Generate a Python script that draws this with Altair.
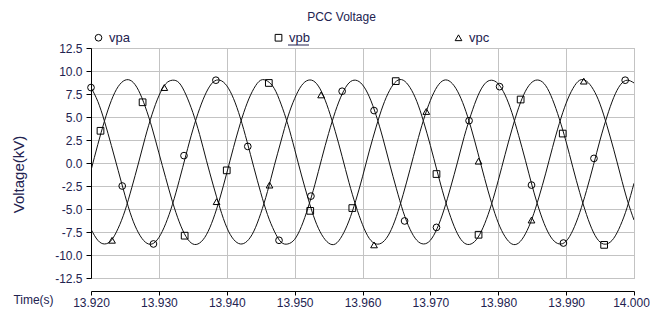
import altair as alt
import pandas as pd

FONT = "Liberation Sans"
TXT = "#222250"

TITLE = "PCC Voltage"
SERIES = ["vpa", "vpb", "vpc"]
SHAPES = ["circle", "square", "triangle-up"]

# sample times (s), one every millisecond
TIME = [round(13.920 + 0.001 * i, 3) for i in range(81)]

# values (kV)
VPA = [8.2, 6.7, 4.5, 1.9, -0.8, -3.5, -5.9, -7.6, -8.6, -8.8,
       -8.1, -6.6, -4.5, -1.9, 0.9, 3.6, 5.9, 7.7, 8.8, 9.0,
       8.4, 7.0, 4.9, 2.3, -0.5, -3.2, -5.6, -7.4, -8.6, -8.8,
       -8.3, -6.9, -4.8, -2.3, 0.5, 3.2, 5.6, 7.5, 8.7, 9.0,
       8.5, 7.2, 5.2, 2.7, -0.1, -2.8, -5.3, -7.2, -8.4, -8.8,
       -8.4, -7.1, -5.1, -2.6, 0.1, 2.9, 5.3, 7.3, 8.6, 9.0,
       8.6, 7.4, 5.5, 3.0, 0.3, -2.5, -5.0, -7.0, -8.3, -8.8,
       -8.5, -7.3, -5.4, -3.0, -0.3, 2.5, 5.0, 7.1, 8.5, 9.0,
       8.7]
VPB = [-0.8, 2.0, 4.6, 6.8, 8.3, 9.0, 8.9, 7.9, 6.1, 3.8,
       1.1, -1.6, -4.2, -6.4, -8.0, -8.8, -8.7, -7.8, -6.1, -3.8,
       -1.1, 1.7, 4.3, 6.5, 8.1, 9.0, 8.9, 8.1, 6.4, 4.2,
       1.5, -1.3, -3.9, -6.2, -7.8, -8.7, -8.8, -7.9, -6.3, -4.1,
       -1.5, 1.3, 3.9, 6.2, 7.9, 8.9, 9.0, 8.2, 6.7, 4.5,
       1.9, -0.9, -3.6, -5.9, -7.7, -8.7, -8.8, -8.1, -6.6, -4.5,
       -1.9, 0.9, 3.6, 6.0, 7.8, 8.8, 9.0, 8.4, 6.9, 4.8,
       2.3, -0.5, -3.2, -5.6, -7.5, -8.6, -8.8, -8.2, -6.8, -4.8,
       -2.2]
VPC = [-7.2, -8.4, -8.8, -8.4, -7.1, -5.2, -2.7, 0.0, 2.8, 5.3,
       7.3, 8.6, 9.0, 8.7, 7.4, 5.5, 3.1, 0.3, -2.4, -4.9,
       -7.0, -8.3, -8.8, -8.5, -7.4, -5.5, -3.1, -0.3, 2.4, 5.0,
       7.0, 8.4, 9.0, 8.8, 7.7, 5.8, 3.4, 0.7, -2.1, -4.6,
       -6.7, -8.2, -8.8, -8.6, -7.6, -5.8, -3.4, -0.7, 2.1, 4.7,
       6.8, 8.3, 9.0, 8.8, 7.8, 6.1, 3.8, 1.1, -1.7, -4.3,
       -6.5, -8.0, -8.8, -8.7, -7.7, -6.0, -3.7, -1.1, 1.7, 4.3,
       6.5, 8.1, 9.0, 8.9, 8.0, 6.4, 4.1, 1.5, -1.3, -4.0,
       -6.2]

# marker positions
MK_A_T = [13.9200, 13.9246, 13.9292, 13.9337, 13.9384, 13.9431, 13.9477, 13.9524, 13.9570,
          13.9617, 13.9662, 13.9709, 13.9757, 13.9802, 13.9849, 13.9896, 13.9941, 13.9987]
MK_A_V = [8.2, -2.5, -8.8, 0.8, 9.0, 1.8, -8.4, -3.6, 7.8, 5.7, -6.3, -7.0, 4.6, 8.3, -2.4, -8.7, 0.5, 9.0]
MK_B_T = [13.9214, 13.9276, 13.9338, 13.9400, 13.9462, 13.9523, 13.9585, 13.9649, 13.9709,
          13.9771, 13.9833, 13.9895, 13.9956]
MK_B_V = [3.5, 6.6, -7.9, -0.8, 8.7, -5.2, -4.9, 8.9, -1.2, -7.8, 6.9, 3.2, -8.9]
MK_C_T = [13.9231, 13.9308, 13.9385, 13.9463, 13.9539, 13.9617, 13.9694, 13.9771, 13.9849, 13.9926]
MK_C_V = [-8.4, 8.2, -4.2, -2.4, 7.4, -8.9, 5.6, 0.2, -6.2, 8.9]

X_TICKS = [13.92, 13.93, 13.94, 13.95, 13.96, 13.97, 13.98, 13.99, 14.0]
Y_TICKS = [-12.5, -10.0, -7.5, -5.0, -2.5, 0.0, 2.5, 5.0, 7.5, 10.0, 12.5]

lines_df = pd.concat([
    pd.DataFrame({"time": TIME, "value": vals, "series": name})
    for name, vals in zip(SERIES, [VPA, VPB, VPC])
])
marks_df = pd.concat([
    pd.DataFrame({"time": t, "value": v, "series": name})
    for name, t, v in zip(SERIES, [MK_A_T, MK_B_T, MK_C_T], [MK_A_V, MK_B_V, MK_C_V])
])

x_enc = alt.X(
    "time:Q",
    scale=alt.Scale(domain=[13.92, 14.0], nice=False, zero=False),
    axis=alt.Axis(
        values=X_TICKS, format=".3f", offset=13, tickSize=4, labelPadding=2,
        labelFlush=False, labelOverlap=False, grid=True,
        labelOffset={"expr": "datum.value > 13.995 ? -3 : 0"},
        title="Time(s)", titleFontSize=12, titleX=-58, titleY=8,
        titleAlign="center", titleBaseline="middle", titleAngle=0,
    ),
)
y_enc = alt.Y(
    "value:Q",
    scale=alt.Scale(domain=[-12.5, 12.5], nice=False, zero=False),
    axis=alt.Axis(
        values=Y_TICKS, tickSize=5, labelPadding=4, labelOverlap=False, grid=True,
        labelExpr="(datum.value < 0 ? '-' : '') + format(abs(datum.value), '.1f')",
        title="Voltage(kV)", titleFontSize=15, titleX=-73, titleY=126,
        titleAlign="center", titleBaseline="middle", titleAngle=270,
    ),
)

lines = alt.Chart(lines_df).mark_line(
    interpolate="natural", strokeWidth=1, color="#111111", clip=True
).encode(x=x_enc, y=y_enc, detail="series:N")

points = alt.Chart(marks_df).mark_point(
    filled=False, color="black", strokeWidth=1, opacity=1, size=45
).encode(
    x=x_enc,
    y=y_enc,
    shape=alt.Shape(
        "series:N",
        scale=alt.Scale(domain=SERIES, range=SHAPES),
        legend=alt.Legend(
            title=None, orient="none", legendX=1, legendY=-17, direction="horizontal",
            columnPadding=142, padding=0, labelFont=FONT, labelFontSize=13,
            labelColor=TXT, labelOffset=4, symbolSize=45, symbolStrokeWidth=1,
            symbolStrokeColor="black",
        ),
    ),
)

underline = alt.Chart(pd.DataFrame({"k": [0]})).mark_rule(
    color=TXT, strokeWidth=1
).encode(x=alt.value(197), x2=alt.value(218), y=alt.value(-3))

chart = alt.layer(lines, points, underline).properties(
    width=543,
    height=230,
    autosize=alt.AutoSizeParams(type="none"),
    padding={"left": 83, "top": 40, "right": 16, "bottom": 34},
    title=alt.TitleParams(
        TITLE, font=FONT, fontSize=12, fontWeight="normal", color=TXT,
        anchor="middle", frame="group", dx=-21, offset=7,
    ),
).configure_axis(
    labelFont=FONT, labelFontSize=12, labelColor=TXT,
    titleFont=FONT, titleFontWeight="normal", titleColor=TXT,
    domainColor="black", tickColor="black", gridColor="#c3c3c3", gridWidth=1, gridOpacity=1,
).configure_view(stroke="#b8b8b8", strokeWidth=1)

chart.save("out.html", embed_options={"renderer": "svg", "actions": False})
